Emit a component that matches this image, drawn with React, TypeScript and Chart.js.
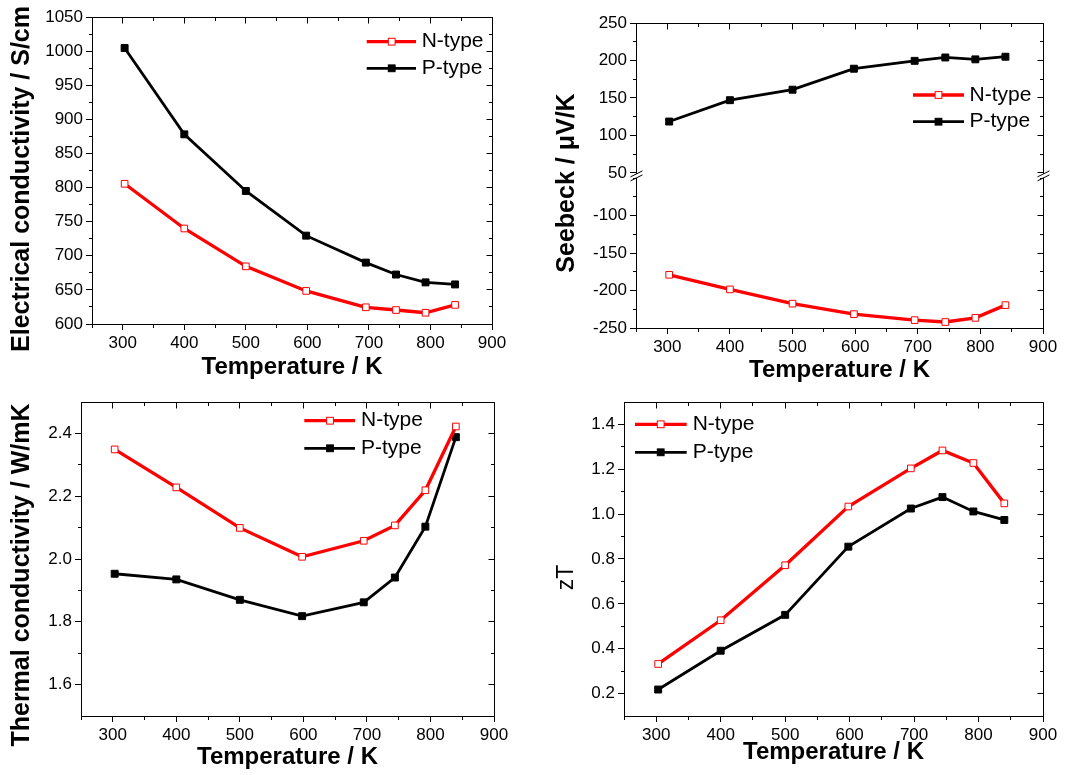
import React, { useEffect, useRef } from "react";
import { Chart, registerables } from "chart.js";

Chart.register(...registerables);

const FONT = '"Liberation Sans", Arial, Helvetica, sans-serif';
const RED = "#ff0000";
const BLACK = "#000000";

// ---------------- data ----------------
const temperatureK = [303, 400, 500, 598, 695, 744, 792, 840];

const conductivityN = [805.5, 740, 684.5, 648.5, 624.5, 620.5, 616.5, 628];
const conductivityP = [1004.5, 878, 795, 729.5, 690, 672.5, 661, 658];

const seebeckN = [-179, -198.5, -217.5, -231.5, -239.5, -242, -236.5, -219.5];
const seebeckP = [118.5, 147, 161, 189, 199.5, 204, 201.5, 205];

const thermalN = [2.349, 2.228, 2.099, 2.007, 2.058, 2.107, 2.219, 2.422];
const thermalP = [1.953, 1.935, 1.87, 1.818, 1.862, 1.941, 2.103, 2.388];

const ztN = [0.332, 0.527, 0.772, 1.034, 1.204, 1.284, 1.228, 1.048];
const ztP = [0.218, 0.391, 0.551, 0.855, 1.025, 1.076, 1.012, 0.974];

const seriesLabels = ["N-type", "P-type"];
const xTitle = "Temperature / K";
const yTitles = [
  "Electrical conductivity / S/cm",
  "Seebeck / μV/K",
  "Thermal conductivity / W/mK",
  "zT",
];

const xMajorTicks = [300, 400, 500, 600, 700, 800, 900];
const xMinorTicks = [250, 350, 450, 550, 650, 750, 850];
const condMajorTicks = [600, 650, 700, 750, 800, 850, 900, 950, 1000, 1050];
const condMinorTicks = [625, 675, 725, 775, 825, 875, 925, 975, 1025];
const seebeckUpperMajorTicks = [50, 100, 150, 200, 250];
const seebeckUpperMinorTicks = [75, 125, 175, 225];
const seebeckLowerMajorTicks = [-250, -200, -150, -100];
const seebeckLowerMinorTicks = [-225, -175, -125, -75, -50];
const thermalMajorTicks = [1.6, 1.8, 2.0, 2.2, 2.4];
const thermalMinorTicks = [1.7, 1.9, 2.1, 2.3];
const ztMajorTicks = [0.2, 0.4, 0.6, 0.8, 1.0, 1.2, 1.4];
const ztMinorTicks = [0.3, 0.5, 0.7, 0.9, 1.1, 1.3];

// ---------------- helpers ----------------
const toPoints = (ys: number[]) => temperatureK.map((x, i) => ({ x, y: ys[i] }));

const RED_W = 3.3;
const BLACK_W = 2.8;

function nSeries(ys: number[], axis = "y") {
  return {
    label: seriesLabels[0],
    data: toPoints(ys),
    yAxisID: axis,
    borderColor: RED,
    borderWidth: RED_W,
    tension: 0,
    pointStyle: "rect",
    pointRadius: 4.7,
    pointBorderWidth: 1,
    pointBorderColor: RED,
    pointBackgroundColor: "#ffffff",
  };
}
function pSeries(ys: number[], axis = "y") {
  return {
    label: seriesLabels[1],
    data: toPoints(ys),
    yAxisID: axis,
    borderColor: BLACK,
    borderWidth: BLACK_W,
    tension: 0,
    pointStyle: "rect",
    pointRadius: 4.9,
    pointBorderWidth: 1,
    pointBorderColor: BLACK,
    pointBackgroundColor: BLACK,
  };
}

function xAxis(height: number, titlePad: number) {
  return {
    type: "linear",
    position: "bottom",
    min: 250,
    max: 900,
    afterBuildTicks: (s: any) => {
      s.ticks = xMajorTicks.map((v) => ({ value: v }));
    },
    afterFit: (s: any) => {
      s.height = height;
    },
    ticks: {
      autoSkip: false,
      maxRotation: 0,
      padding: 3,
      color: BLACK,
      font: { family: FONT, size: 17 },
      callback: (v: any) => String(v),
    },
    grid: {
      display: true,
      drawOnChartArea: false,
      drawTicks: true,
      tickLength: 6,
      tickWidth: 1,
      tickColor: BLACK,
      color: BLACK,
    },
    border: { display: true, color: BLACK, width: 1 },
    title: {
      display: true,
      text: xTitle,
      color: BLACK,
      font: { family: FONT, size: 24, weight: "bold", lineHeight: 1 },
      padding: { top: 0, bottom: titlePad },
    },
  };
}

function yAxis(min: number, max: number, major: number[], width: number, fmt: (v: number) => string, extra: any = {}) {
  return {
    type: "linear",
    position: "left",
    min,
    max,
    afterBuildTicks: (s: any) => {
      s.ticks = major.map((v) => ({ value: v }));
    },
    afterFit: (s: any) => {
      s.width = width;
    },
    ticks: {
      autoSkip: false,
      padding: 3,
      color: BLACK,
      font: { family: FONT, size: 17 },
      callback: (v: any) => fmt(Number(v)),
    },
    grid: {
      display: true,
      drawOnChartArea: false,
      drawTicks: true,
      tickLength: 6,
      tickWidth: 1,
      tickColor: BLACK,
      color: BLACK,
    },
    border: { display: true, color: BLACK, width: 1 },
    title: { display: false },
    ...extra,
  };
}

const alignPx = (v: number) => Math.round(v - 0.5) + 0.5;

type FrameSpec = {
  yAxes: { id: string; major: number[]; minor: number[] }[];
  breakAxis?: string;
  legend: { x0: number; x1: number; mx: number; tx: number; ys: number[] };
  yTitle: { text: string; x: number; y: number; size: number; bold: boolean };
};

function makeFramePlugin(spec: FrameSpec) {
  return {
    id: "originFrame",
    afterDraw(chart: any) {
      const { ctx, chartArea: a } = chart;
      const L = alignPx(a.left);
      const R = alignPx(a.right);
      const T = alignPx(a.top);
      const B = alignPx(a.bottom);
      ctx.save();
      ctx.strokeStyle = BLACK;
      ctx.lineWidth = 1;
      const line = (x1: number, y1: number, x2: number, y2: number) => {
        ctx.beginPath();
        ctx.moveTo(x1, y1);
        ctx.lineTo(x2, y2);
        ctx.stroke();
      };
      // frame
      line(L, T, R, T);
      line(R, T, R, B);
      line(L, T, L, B);
      line(L, B, R, B);
      // x ticks
      const xs = chart.scales.x;
      for (const v of xMinorTicks) {
        const px = alignPx(xs.getPixelForValue(v));
        line(px, B, px, B + 3.5);
        line(px, T, px, T + 3.5);
      }
      for (const v of xMajorTicks) {
        const px = alignPx(xs.getPixelForValue(v));
        line(px, T, px, T + 6);
      }
      // y ticks
      for (const ax of spec.yAxes) {
        const sc = chart.scales[ax.id];
        for (const v of ax.minor) {
          const py = alignPx(sc.getPixelForValue(v));
          line(L - 3.5, py, L, py);
          line(R - 3.5, py, R, py);
        }
        for (const v of ax.major) {
          const py = alignPx(sc.getPixelForValue(v));
          line(R - 6, py, R, py);
        }
      }
      // axis break
      if (spec.breakAxis) {
        const yb = chart.scales[spec.breakAxis].bottom;
        for (const x of [L, R]) {
          ctx.fillStyle = "#ffffff";
          ctx.fillRect(x - 3, yb - 2, 6, 4);
          line(x - 6, yb - 2 + 3, x + 6, yb - 2 - 3);
          line(x - 6, yb + 2 + 3, x + 6, yb + 2 - 3);
        }
      }
      // legend
      const lg = spec.legend;
      const items = [
        { label: seriesLabels[0], color: RED, fill: "#ffffff", width: RED_W },
        { label: seriesLabels[1], color: BLACK, fill: BLACK, width: BLACK_W },
      ];
      items.forEach((it, i) => {
        const y = lg.ys[i];
        ctx.strokeStyle = it.color;
        ctx.lineWidth = it.width;
        line(lg.x0, y, lg.x1, y);
        ctx.fillStyle = it.fill;
        ctx.fillRect(lg.mx - 3.4, y - 3.4, 6.8, 6.8);
        ctx.strokeStyle = it.color;
        ctx.lineWidth = 1;
        ctx.strokeRect(lg.mx - 3.4, y - 3.4, 6.8, 6.8);
        ctx.fillStyle = BLACK;
        ctx.font = `21px ${FONT}`;
        ctx.textAlign = "left";
        ctx.textBaseline = "middle";
        ctx.fillText(it.label, lg.tx, y);
      });
      // y title
      const t = spec.yTitle;
      ctx.save();
      ctx.translate(t.x, t.y);
      ctx.rotate(-Math.PI / 2);
      ctx.fillStyle = BLACK;
      ctx.font = `${t.bold ? "bold " : ""}${t.size}px ${FONT}`;
      ctx.textAlign = "center";
      ctx.textBaseline = "middle";
      ctx.fillText(t.text, 0, 0);
      ctx.restore();
      ctx.restore();
    },
  };
}

function baseOptions(padTop: number, padRight: number, scales: any) {
  return {
    responsive: false,
    animation: false,
    devicePixelRatio: 1,
    layout: { padding: { left: 0, top: padTop, right: padRight, bottom: 0 } },
    plugins: { legend: { display: false }, tooltip: { enabled: false } },
    scales,
  };
}

const fmtInt = (v: number) => String(Math.round(v));
const fmt1 = (v: number) => v.toFixed(1);

function conductivityConfig() {
  return {
    type: "line",
    data: { datasets: [nSeries(conductivityN), pSeries(conductivityP)] },
    options: baseOptions(17, 43, {
      x: xAxis(64, 9),
      y: yAxis(600, 1050, condMajorTicks, 92, fmtInt),
    }),
    plugins: [
      makeFramePlugin({
        yAxes: [{ id: "y", major: condMajorTicks, minor: condMinorTicks }],
        legend: { x0: 366.7, x1: 416, mx: 391.7, tx: 421.7, ys: [41.7, 68.3] },
        yTitle: { text: yTitles[0], x: 21.7, y: 179, size: 25, bold: true },
      }),
    ],
  };
}

function seebeckConfig() {
  return {
    type: "line",
    data: { datasets: [nSeries(seebeckN, "yBot"), pSeries(seebeckP, "yTop")] },
    options: baseOptions(23, 28, {
      x: xAxis(60, 6),
      yTop: yAxis(46, 250, seebeckUpperMajorTicks, 101, fmtInt, { stack: "seebeck", stackWeight: 204, weight: 2 }),
      yBot: yAxis(-250, -47, seebeckLowerMajorTicks, 101, fmtInt, { stack: "seebeck", stackWeight: 203, weight: 1 }),
    }),
    plugins: [
      makeFramePlugin({
        yAxes: [
          { id: "yTop", major: seebeckUpperMajorTicks, minor: seebeckUpperMinorTicks },
          { id: "yBot", major: seebeckLowerMajorTicks, minor: seebeckLowerMinorTicks },
        ],
        breakAxis: "yTop",
        legend: { x0: 378, x1: 429, mx: 403.5, tx: 434.5, ys: [95, 121.7] },
        yTitle: { text: yTitles[1], x: 32.5, y: 183, size: 25, bold: true },
      }),
    ],
  };
}

function thermalConfig() {
  return {
    type: "line",
    data: { datasets: [nSeries(thermalN), pSeries(thermalP)] },
    options: baseOptions(14, 41, {
      x: xAxis(59, 6),
      y: yAxis(1.5, 2.5, thermalMajorTicks, 81, fmt1),
    }),
    plugins: [
      makeFramePlugin({
        yAxes: [{ id: "y", major: thermalMajorTicks, minor: thermalMinorTicks }],
        legend: { x0: 304.3, x1: 355, mx: 330, tx: 361, ys: [32.7, 60.3] },
        yTitle: { text: yTitles[2], x: 22.5, y: 187, size: 25, bold: true },
      }),
    ],
  };
}

function ztConfig() {
  return {
    type: "line",
    data: { datasets: [nSeries(ztN), pSeries(ztP)] },
    options: baseOptions(14, 28, {
      x: xAxis(59, 11),
      y: yAxis(0.1, 1.5, ztMajorTicks, 89, fmt1),
    }),
    plugins: [
      makeFramePlugin({
        yAxes: [{ id: "y", major: ztMajorTicks, minor: ztMinorTicks }],
        legend: { x0: 100, x1: 151.7, mx: 125.7, tx: 157.7, ys: [36.3, 64.3] },
        yTitle: { text: yTitles[3], x: 31.7, y: 189.5, size: 23, bold: false },
      }),
    ],
  };
}

function ChartPanel(props: { left: number; top: number; width: number; height: number; build: () => any }) {
  const ref = useRef<HTMLCanvasElement>(null);
  useEffect(() => {
    const chart = new Chart(ref.current as HTMLCanvasElement, props.build() as any);
    return () => chart.destroy();
  }, []);
  return (
    <canvas
      ref={ref}
      width={props.width}
      height={props.height}
      style={{
        position: "absolute",
        left: props.left,
        top: props.top,
        width: props.width,
        height: props.height,
      }}
    />
  );
}

export default function App() {
  return (
    <div
      style={{
        position: "absolute",
        left: 0,
        top: 0,
        width: 1071,
        height: 775,
        background: "#ffffff",
        overflow: "hidden",
      }}
    >
      <ChartPanel left={0} top={0} width={535} height={388} build={conductivityConfig} />
      <ChartPanel left={535} top={0} width={536} height={388} build={seebeckConfig} />
      <ChartPanel left={0} top={388} width={535} height={387} build={thermalConfig} />
      <ChartPanel left={535} top={388} width={536} height={387} build={ztConfig} />
    </div>
  );
}
